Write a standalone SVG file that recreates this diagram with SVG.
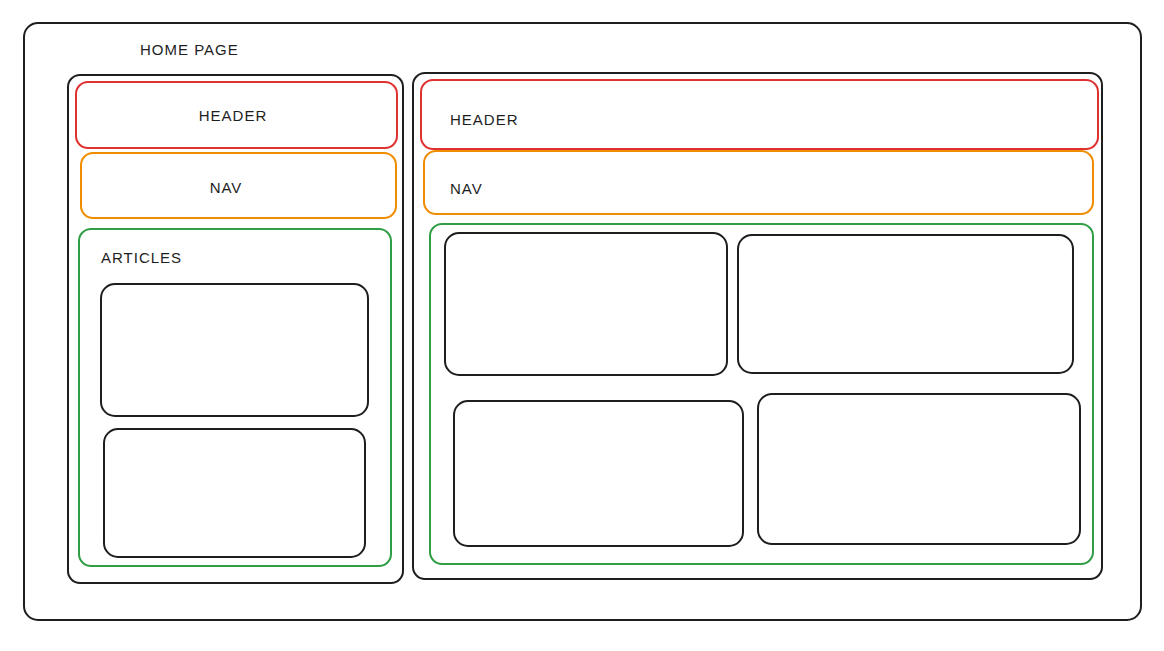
<svg xmlns="http://www.w3.org/2000/svg" width="1164" height="651" viewBox="0 0 1164 651">
<style>
.b{fill:none;stroke:#1e1e1e;stroke-width:2}
.r{fill:none;stroke:#e03131;stroke-width:2}
.o{fill:none;stroke:#f08c00;stroke-width:2}
.g{fill:none;stroke:#2f9e44;stroke-width:2}
.t{font-family:"Liberation Sans",Arial,sans-serif;font-size:15px;fill:#1e1e1e;letter-spacing:1px}
</style>
<rect width="1164" height="651" fill="#ffffff"/>
<g id="home-page">
<rect class="b" x="24" y="23" width="1117" height="597" rx="14"/>
<text class="t" x="140" y="55">HOME PAGE</text>
</g>
<g id="left-panel">
<rect class="b" x="68" y="75" width="335" height="508" rx="12"/>
</g>
<g id="left-header">
<rect class="r" x="76" y="82" width="321" height="66" rx="12"/>
<text class="t" x="233" y="121" text-anchor="middle">HEADER</text>
</g>
<g id="left-nav">
<rect class="o" x="81" y="153" width="315" height="65" rx="12"/>
<text class="t" x="226" y="193" text-anchor="middle">NAV</text>
</g>
<g id="left-articles">
<rect class="g" x="79" y="229" width="312" height="337" rx="12"/>
<text class="t" x="101" y="263">ARTICLES</text>
</g>
<g id="left-article-1">
<rect class="b" x="101" y="284" width="267" height="132" rx="14"/>
</g>
<g id="left-article-2">
<rect class="b" x="104" y="429" width="261" height="128" rx="14"/>
</g>
<g id="right-panel">
<rect class="b" x="413" y="73" width="689" height="506" rx="12"/>
</g>
<g id="right-header">
<rect class="r" x="421" y="80" width="677" height="69" rx="12"/>
<text class="t" x="450" y="125">HEADER</text>
</g>
<g id="right-nav">
<rect class="o" x="424" y="151" width="669" height="63" rx="12"/>
<text class="t" x="450" y="194">NAV</text>
</g>
<g id="right-articles">
<rect class="g" x="430" y="224" width="663" height="340" rx="12"/>
</g>
<g id="right-article-1">
<rect class="b" x="445" y="233" width="282" height="142" rx="14"/>
</g>
<g id="right-article-2">
<rect class="b" x="738" y="235" width="335" height="138" rx="14"/>
</g>
<g id="right-article-3">
<rect class="b" x="454" y="401" width="289" height="145" rx="14"/>
</g>
<g id="right-article-4">
<rect class="b" x="758" y="394" width="322" height="150" rx="14"/>
</g>
<g id="connectors"></g>
</svg>
